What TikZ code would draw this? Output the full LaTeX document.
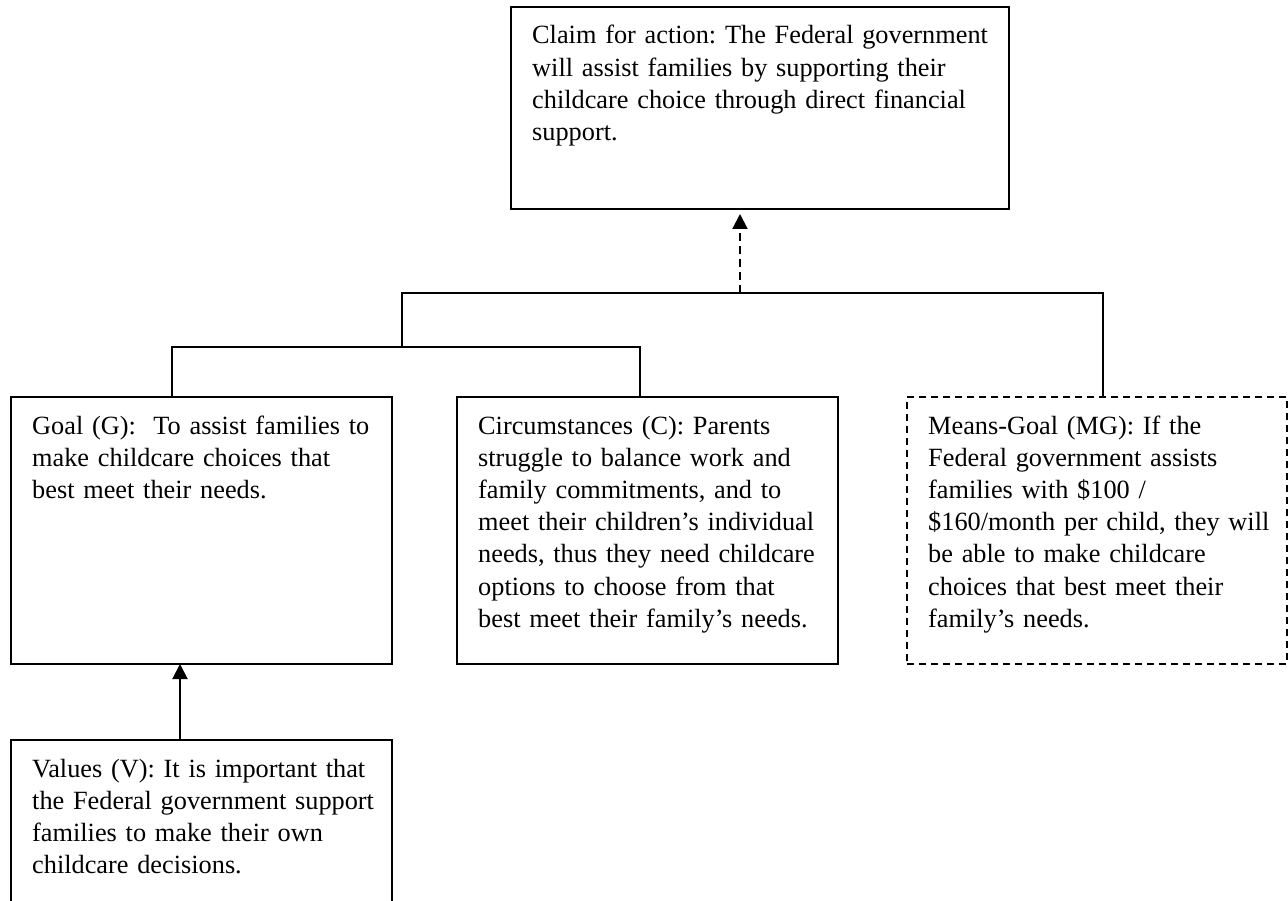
\documentclass[tikz,border=0pt]{standalone}
\usepackage{fontspec}
\setmainfont{Liberation Serif}
\usetikzlibrary{arrows.meta}
\frenchspacing
\begin{document}
\begin{tikzpicture}[x=1pt,y=-1pt,
  box/.style={draw, line width=2pt, inner sep=0pt, outer sep=0pt, anchor=north west},
  dbox/.style={box, dash pattern=on 7pt off 5pt},
  txt/.style={anchor=base west, inner sep=0pt, align=left, text width=480pt, font=\fontsize{26.3}{32.2}\selectfont},
  conn/.style={line width=2pt, line join=miter},
  arr/.style={line width=2pt, -{Triangle[width=15pt,length=15pt]}},
  darr/.style={arr, dash pattern=on 8pt off 5pt},
]
\useasboundingbox (0,0) rectangle (1288,901);
\clip (0,0) rectangle (1288,901);
% boxes
\node[box, minimum width=498pt, minimum height=202pt] (claim) at (511,7) {};
\node[box, minimum width=381pt, minimum height=267pt] (goal) at (11,397) {};
\node[box, minimum width=381pt, minimum height=267pt] (circ) at (457,397) {};
\node[dbox, minimum width=380pt, minimum height=267pt] (mg) at (907,397) {};
\node[box, minimum width=381pt, minimum height=200pt] (val) at (11,740) {};
% texts
\node[txt] (claimt) at ([xshift=21pt,yshift=-37pt]claim.north west) {Claim for action: The Federal government\\will assist families by supporting their\\childcare choice through direct financial\\support.};
\node[txt] (goalt) at ([xshift=21pt,yshift=-37pt]goal.north west) {Goal (G):\ \ To assist families to\\make childcare choices that\\best meet their needs.};
\node[txt] (circt) at ([xshift=21pt,yshift=-37pt]circ.north west) {Circumstances (C): Parents\\struggle to balance work and\\family commitments, and to\\meet their children’s individual\\needs, thus they need childcare\\options to choose from that\\best meet their family’s needs.};
\node[txt] (mgt) at ([xshift=21pt,yshift=-37pt]mg.north west) {Means-Goal (MG): If the\\Federal government assists\\families with \$100 /\\\$160/month per child, they will\\be able to make childcare\\choices that best meet their\\family’s needs.};
\node[txt] (valt) at ([xshift=21pt,yshift=-37pt]val.north west) {Values (V): It is important that\\the Federal government support\\families to make their own\\childcare decisions.};
% connector coordinates
\coordinate (ga) at (172,397);
\coordinate (ca) at (640,397);
\coordinate (ma) at (1103,397);
\coordinate (h2) at (402,347);
\coordinate (h1) at (402,293);
\coordinate (j) at (740,293);
\coordinate (vt) at (180,740);
\coordinate (gb) at (180,664);
% connectors
\draw[conn] (ga) -- (ga |- h2) -- (ca |- h2) -- (ca);
\draw[conn] (h2) -- (h1) -- (ma |- h1) -- (ma);
\draw[darr, shorten >=5pt] (j) -- (j |- claim.south);
\draw[arr] (vt) -- (gb);
\end{tikzpicture}
\end{document}
